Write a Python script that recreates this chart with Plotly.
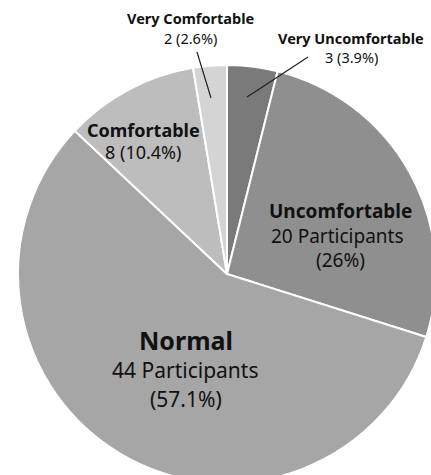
import plotly.graph_objects as go

# Data
categories = ["Very Uncomfortable", "Uncomfortable", "Normal", "Comfortable", "Very Comfortable"]
counts = [3, 20, 44, 8, 2]
percent_labels = ["3.9%", "26%", "57.1%", "10.4%", "2.6%"]
colors = ["#7a7a7a", "#8f8f8f", "#a6a6a6", "#bdbdbd", "#d4d4d4"]

# Canvas larger than viewport so the pie is clipped on the right/bottom like the reference
W, H = 454, 548
CX, CY, R = 227, 274, 209

def px(x):
    return x / W

def py(y):
    return 1 - y / H

fig = go.Figure(go.Pie(
    labels=categories,
    values=counts,
    sort=False,
    direction="clockwise",
    rotation=0,
    marker=dict(colors=colors, line=dict(color="white", width=2)),
    textinfo="none",
    hoverinfo="label+value+percent",
    showlegend=False,
    domain=dict(x=[px(CX - R), px(CX + R)], y=[py(CY + R), py(CY - R)]),
))

FONT = "Noto Sans, Open Sans, sans-serif"

label_specs = [
    # (text, x, y, size)
    (f"<b>{categories[4]}</b>", 190, 18, 14.5),
    (f"{counts[4]} ({percent_labels[4]})", 190, 38, 14.5),
    (f"<b>{categories[0]}</b>", 351, 38, 14.5),
    (f"{counts[0]} ({percent_labels[0]})", 351, 57, 14.5),
    (f"<b>{categories[3]}</b>", 143, 130, 18),
    (f"{counts[3]} ({percent_labels[3]})", 143, 152, 18),
    (f"<b>{categories[1]}</b>", 340, 211, 19),
    (f"{counts[1]} Participants", 337, 236, 19),
    (f"({percent_labels[1]})", 340, 260, 19),
    (f"<b>{categories[2]}</b>", 186, 340, 25),
    (f"{counts[2]} Participants", 185, 370, 21),
    (f"({percent_labels[2]})", 186, 399, 21),
]

annotations = []
for text, x, y, size in label_specs:
    annotations.append(dict(
        text=text, x=px(x), y=py(y), xref="paper", yref="paper",
        xanchor="center", yanchor="middle", showarrow=False,
        font=dict(family=FONT, size=size, color="#111111"),
    ))

shapes = [
    dict(type="line", xref="paper", yref="paper",
         x0=px(197), y0=py(52), x1=px(211), y1=py(98),
         line=dict(color="#222222", width=1.2)),
    dict(type="line", xref="paper", yref="paper",
         x0=px(308), y0=py(57), x1=px(247), y1=py(97),
         line=dict(color="#222222", width=1.2)),
]

fig.update_layout(
    width=W, height=H,
    margin=dict(l=0, r=0, t=0, b=0),
    paper_bgcolor="white",
    plot_bgcolor="white",
    annotations=annotations,
    shapes=shapes,
)

fig.write_html(
    "out.html",
    post_script="document.body.style.margin='0';document.body.style.overflow='hidden';document.documentElement.style.overflow='hidden';",
)
